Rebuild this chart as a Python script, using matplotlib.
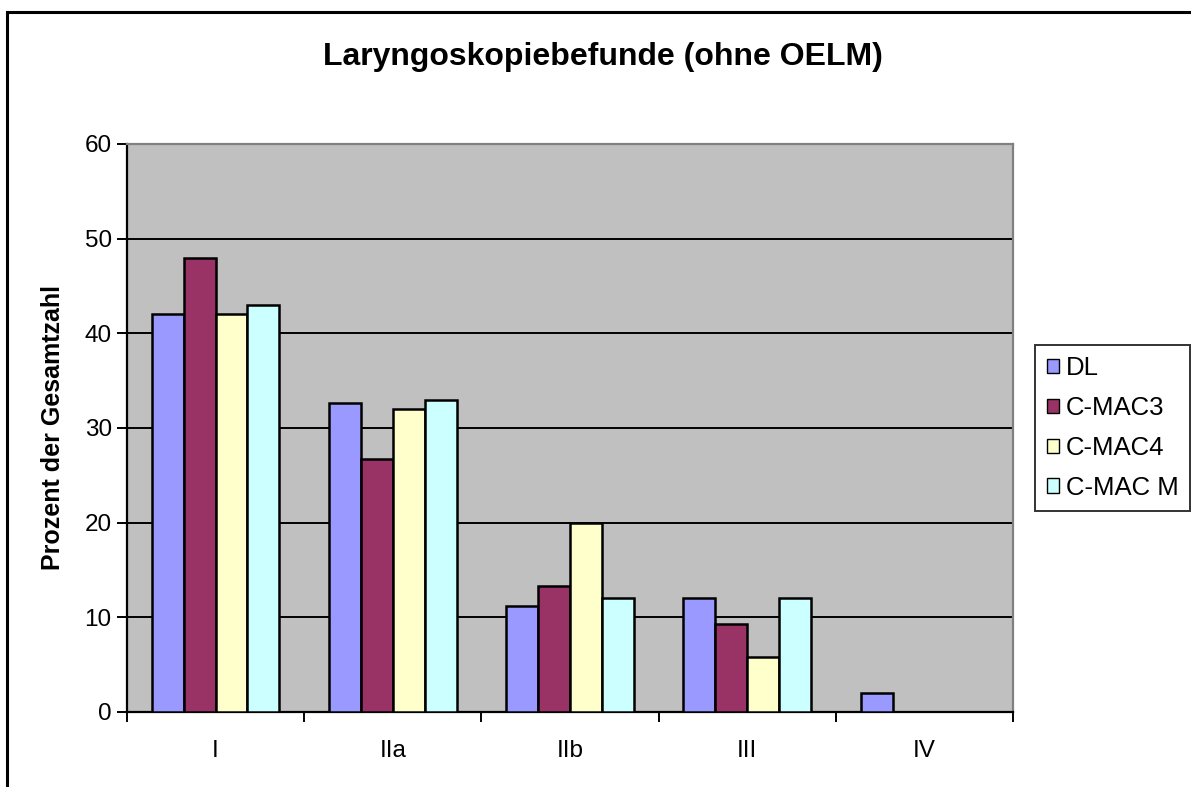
import numpy as np
import matplotlib.pyplot as plt
from matplotlib.patches import Rectangle

plt.rcParams['font.family'] = ['Liberation Sans', 'DejaVu Sans']

categories = ['I', 'IIa', 'IIb', 'III', 'IV']
series = ['DL', 'C-MAC3', 'C-MAC4', 'C-MAC M']
dl = [42.0, 32.6, 11.2, 12.0, 2.0]
cmac3 = [48.0, 26.7, 13.3, 9.3, 0.0]
cmac4 = [42.0, 32.0, 20.0, 5.8, 0.0]
cmacm = [43.0, 33.0, 12.0, 12.0, 0.0]
colors = ['#9999FF', '#993366', '#FFFFCC', '#CCFFFF']

W, H = 1191, 787
fig = plt.figure(figsize=(W / 100, H / 100), dpi=100)

# outer chart frame (only top and left edges inside the picture)
fig.patches.append(Rectangle((7 / W, -0.2), 1.5, 1.2 - 12 / H,
                             transform=fig.transFigure, fill=False,
                             edgecolor='black', linewidth=2.2))

ax = fig.add_axes([127 / W, (H - 712) / H, (1013 - 127) / W, (712 - 144) / H])
ax.set_facecolor('#C0C0C0')

x = np.arange(len(categories))
bw = 0.18
for k, (name, vals) in enumerate(zip(series, [dl, cmac3, cmac4, cmacm])):
    pos = x + (k - 1.5) * bw
    ax.bar(pos, vals, width=bw, color=colors[k], edgecolor='black',
           linewidth=1.8, label=name, zorder=3)

ax.set_xlim(-0.5, len(categories) - 0.5)
ax.set_ylim(0, 60)
ax.set_yticks(range(0, 61, 10))
ax.yaxis.grid(True, color='black', linewidth=1.4, zorder=1)
ax.set_axisbelow(True)

ax.set_xticks(x)
ax.set_xticklabels(categories, fontsize=17.5)
ax.set_xticks(np.arange(-0.5, len(categories), 1.0), minor=True)
ax.tick_params(axis='x', which='major', length=0, pad=20)
ax.tick_params(axis='x', which='minor', length=7, width=1.4, direction='out')
ax.tick_params(axis='y', length=7, width=1.4, direction='out', labelsize=17.5, pad=4)

for s in ['left', 'bottom']:
    ax.spines[s].set_linewidth(1.6)
    ax.spines[s].set_color('black')
for s in ['top', 'right']:
    ax.spines[s].set_linewidth(1.6)
    ax.spines[s].set_color('#808080')

ax.set_ylabel('Prozent der Gesamtzahl', fontsize=18, fontweight='bold', labelpad=14)
fig.text(603 / W, 1 - 57 / H, 'Laryngoskopiebefunde (ohne OELM)', ha='center', va='center',
         fontsize=23, fontweight='bold')

leg = ax.legend(loc='center left', bbox_to_anchor=(1035 / W, 1 - 428 / H),
                bbox_transform=fig.transFigure, fontsize=18.5, frameon=True,
                fancybox=False, edgecolor='black', handlelength=0.5, handleheight=0.5,
                handletextpad=0.25, labelspacing=0.62, borderpad=0.45, borderaxespad=0)
leg.get_frame().set_linewidth(1.4)
for h in leg.legend_handles:
    h.set_linewidth(1.0)

fig.savefig('out.png', dpi=100)
